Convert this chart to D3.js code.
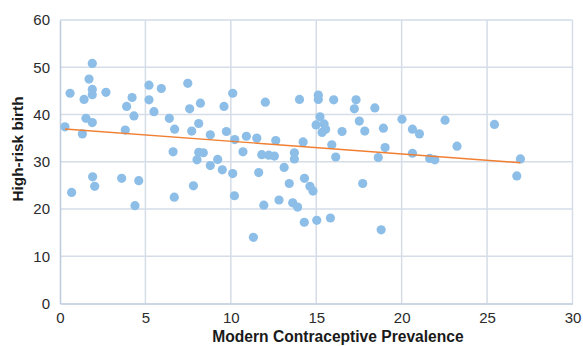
<!DOCTYPE html>
<html>
<head>
<meta charset="utf-8">
<script src="https://cdn.jsdelivr.net/npm/d3@7"></script>
<style>
  html, body { margin: 0; padding: 0; background: #fff; }
  svg { display: block; font-family: "Liberation Sans", Arial, sans-serif; }
</style>
</head>
<body>
<div id="chart"></div>
<script>
// Modern contraceptive prevalence (x) vs high-risk birth (y)
const prevalence = [
  0.29, 0.59, 0.68, 1.31, 1.41, 1.52, 1.70, 1.89, 1.89, 1.89, 1.89, 1.91, 2.03, 2.69,
  3.61, 3.82, 3.90, 4.22, 4.33, 4.39, 4.61, 5.21, 5.21, 5.50, 5.93, 6.40, 6.62, 6.69,
  6.71, 7.48, 7.59, 7.71, 7.81, 8.02, 8.12, 8.12, 8.22, 8.39, 8.80, 8.80, 9.23, 9.50,
  9.60, 9.74, 10.11, 10.11, 10.21, 10.23, 10.71, 10.91, 11.32, 11.52, 11.63, 11.81,
  11.93, 12.02, 12.22, 12.55, 12.63, 12.82, 13.12, 13.42, 13.62, 13.72, 13.72, 13.91,
  14.02, 14.23, 14.31, 14.30, 14.63, 14.81, 14.99, 15.03, 15.12, 15.12, 15.22, 15.34,
  15.46, 15.55, 15.83, 15.91, 16.02, 16.14, 16.51, 17.23, 17.33, 17.52, 17.72, 17.84,
  18.43, 18.63, 18.80, 18.93, 19.03, 20.02, 20.63, 20.63, 21.04, 21.64, 21.94, 22.54,
  23.24, 25.43, 26.74, 26.95
];
const highRisk = [
  37.4, 44.5, 23.5, 35.9, 43.2, 39.2, 47.5, 50.8, 45.3, 44.2, 38.3, 26.8, 24.8, 44.7,
  26.5, 36.7, 41.7, 43.6, 39.7, 20.7, 26.0, 46.2, 43.1, 40.6, 45.5, 39.2, 32.1, 22.5,
  36.9, 46.6, 41.2, 36.5, 24.9, 30.4, 38.1, 32.0, 42.4, 31.9, 35.7, 29.2, 30.5, 28.3,
  41.7, 36.4, 44.5, 27.5, 22.8, 34.7, 32.1, 35.4, 14.0, 35.0, 27.7, 31.5,
  20.8, 42.6, 31.4, 31.2, 34.5, 21.9, 28.8, 25.4, 21.3, 31.9, 30.6, 20.4,
  43.2, 34.2, 26.5, 17.2, 24.8, 23.8, 37.8, 17.6, 44.1, 43.2, 39.5, 36.2,
  38.0, 36.9, 18.1, 33.6, 43.1, 31.0, 36.4, 41.2, 43.1, 38.6, 25.4, 36.5,
  41.4, 30.9, 15.6, 37.1, 33.0, 39.0, 36.9, 31.8, 35.9, 30.7, 30.4, 38.8,
  33.3, 37.9, 27.0, 30.6
];
const xTicks = [0, 5, 10, 15, 20, 25, 30];
const yTicks = [0, 10, 20, 30, 40, 50, 60];

const W = 583, H = 346;
const margin = { top: 20, right: 10, bottom: 42.5, left: 60 };
const innerW = 572.5 - margin.left;
const innerH = 303.5 - margin.top;

const svg = d3.select('#chart').append('svg')
  .attr('width', W)
  .attr('height', H);

const g = svg.append('g')
  .attr('transform', 'translate(' + margin.left + ',' + margin.top + ')');

const x = d3.scaleLinear().domain([0, 30]).range([0, innerW]);
const y = d3.scaleLinear().domain([0, 60]).range([innerH, 0]);

// grid
g.append('g').selectAll('line')
  .data(xTicks.slice(1))
  .enter().append('line')
  .attr('x1', d => x(d)).attr('x2', d => x(d))
  .attr('y1', 0).attr('y2', innerH)
  .attr('stroke', '#d5dde8').attr('stroke-width', 1.5);
g.append('g').selectAll('line')
  .data(yTicks.slice(1))
  .enter().append('line')
  .attr('x1', 0).attr('x2', innerW)
  .attr('y1', d => y(d)).attr('y2', d => y(d))
  .attr('stroke', '#d5dde8').attr('stroke-width', 1.5);

// axes
const xAxis = g.append('g')
  .attr('transform', 'translate(0,' + innerH + ')')
  .call(d3.axisBottom(x).tickValues(xTicks).tickSize(0).tickPadding(9));
const yAxis = g.append('g')
  .call(d3.axisLeft(y).tickValues(yTicks).tickSize(0).tickPadding(10));
[xAxis, yAxis].forEach(a => {
  a.select('.domain').attr('stroke', '#bccadb').attr('stroke-width', 1.5);
  a.selectAll('text')
    .style('font-size', '15px')
    .style('font-family', '"Liberation Sans", Arial, sans-serif')
    .attr('fill', '#2b2b2b');
});

// trend line (least squares fit)
const n = prevalence.length;
const mx = d3.mean(prevalence), my = d3.mean(highRisk);
let sxy = 0, sxx = 0;
for (let i = 0; i < n; i++) {
  sxy += (prevalence[i] - mx) * (highRisk[i] - my);
  sxx += (prevalence[i] - mx) * (prevalence[i] - mx);
}
const slope = sxy / sxx;
const intercept = my - slope * mx;
const xExt = d3.extent(prevalence);

// points
g.append('g').selectAll('circle')
  .data(d3.range(n))
  .enter().append('circle')
  .attr('cx', i => x(prevalence[i]))
  .attr('cy', i => y(highRisk[i]))
  .attr('r', 4.6)
  .attr('fill', '#8dbee8');

g.append('line')
  .attr('x1', x(xExt[0])).attr('y1', y(intercept + slope * xExt[0]))
  .attr('x2', x(xExt[1])).attr('y2', y(intercept + slope * xExt[1]))
  .attr('stroke', '#f07f32').attr('stroke-width', 1.4);

// axis titles
svg.append('text')
  .text('Modern Contraceptive Prevalence')
  .attr('x', 338).attr('y', 341.5)
  .attr('text-anchor', 'middle')
  .style('font-size', '15.6px')
  .style('font-weight', 'bold')
  .attr('fill', '#1a1a1a');

svg.append('text')
  .text('High-risk birth')
  .attr('transform', 'translate(23,149) rotate(-90)')
  .attr('text-anchor', 'middle')
  .style('font-size', '15.4px')
  .style('font-weight', 'bold')
  .attr('fill', '#1a1a1a');
</script>
</body>
</html>
